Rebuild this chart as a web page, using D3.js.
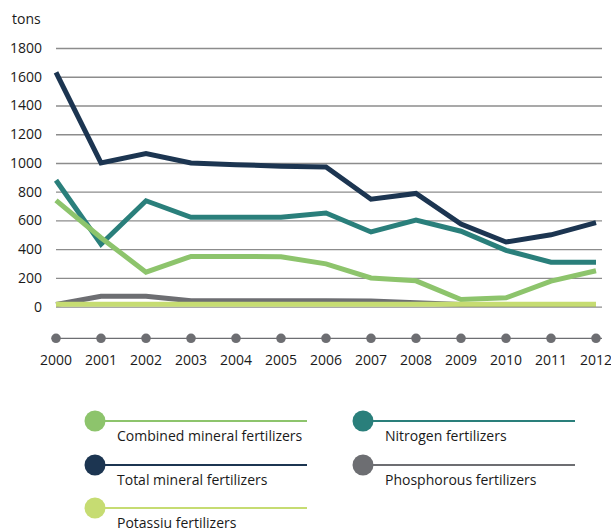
<!DOCTYPE html>
<html>
<head>
<meta charset="utf-8">
<script src="https://cdn.jsdelivr.net/npm/d3@7"></script>
<style>
  html, body { margin: 0; padding: 0; background: #fff; }
  svg { display: block; font-family: "Open Sans", "Noto Sans", sans-serif; }
</style>
</head>
<body>
<svg id="chart" width="611" height="531"></svg>
<script>
// Fertilizer use, tons per year
const years = [2000, 2001, 2002, 2003, 2004, 2005, 2006, 2007, 2008, 2009, 2010, 2011, 2012];
const yTicks = [0, 200, 400, 600, 800, 1000, 1200, 1400, 1600, 1800];

const combined    = [740, 480, 240, 350, 350, 348, 298, 200, 180, 50, 62, 178, 250];
const nitrogen    = [880, 435, 737, 622, 622, 622, 652, 520, 602, 525, 392, 310, 310];
const total       = [1630, 1000, 1065, 1000, 988, 978, 972, 748, 788, 575, 450, 500, 585];
const phosphorous = [15, 72, 72, 42, 42, 42, 42, 40, 28, 15, 15, 15, 15];
const potassium   = [17, 17, 17, 17, 17, 17, 17, 17, 17, 17, 17, 17, 17];

const seriesNames  = ["Combined mineral fertilizers", "Nitrogen fertilizers", "Total mineral fertilizers",
                      "Phosphorous fertilizers", "Potassiu fertilizers"];
const seriesColors = ["#8dc46c", "#2a7f7b", "#1c3551", "#6d6e72", "#c6dc72"];
const seriesValues = [combined, nitrogen, total, phosphorous, potassium];

const svg = d3.select("#chart");
const fontSize = 14;

const x = d3.scaleLinear().domain([2000, 2012]).range([56, 596]);
const y = d3.scaleLinear().domain([0, 1800]).range([306.7, 48]);

// unit label
svg.append("text").attr("x", 12).attr("y", 24)
  .attr("font-size", fontSize).attr("fill", "#1a1a1a").text("tons");

// horizontal gridlines + y labels
const yAxis = d3.axisLeft(y).tickValues(yTicks).tickSize(-(602 - 56)).tickPadding(14)
  .tickFormat(d3.format("d"));
const gy = svg.append("g").attr("transform", "translate(56,0)").call(yAxis);
gy.select(".domain").remove();
gy.selectAll(".tick line").attr("stroke", "#8c8c8c").attr("stroke-width", 1.3);
gy.selectAll(".tick text").attr("font-size", fontSize).attr("fill", "#1a1a1a")
  .attr("font-family", "'Open Sans', sans-serif");

// series lines: drawn so the lighter greens sit on top
const line = d3.line().x((d, i) => x(years[i])).y(d => y(d));
const drawOrder = [3, 1, 2, 0, 4];
drawOrder.forEach(k => {
  svg.append("path")
    .datum(seriesValues[k])
    .attr("d", line)
    .attr("fill", "none")
    .attr("stroke", seriesColors[k])
    .attr("stroke-width", 5)
    .attr("stroke-linejoin", "miter");
});

// year axis with dot markers
const axisY = 338.3;
svg.append("line").attr("x1", 56).attr("x2", 602).attr("y1", axisY).attr("y2", axisY)
  .attr("stroke", "#6d6e72").attr("stroke-width", 1.2);
svg.append("g").selectAll("circle").data(years).join("circle")
  .attr("cx", d => x(d)).attr("cy", axisY).attr("r", 4.8).attr("fill", "#6d6e72");
svg.append("g").selectAll("text").data(years).join("text")
  .attr("x", d => x(d)).attr("y", 365).attr("text-anchor", "middle")
  .attr("font-size", fontSize).attr("fill", "#1a1a1a").text(d => d);

// legend
const legendPos = [
  { cx: 95, cy: 421 }, { cx: 363, cy: 421 },
  { cx: 95, cy: 465 }, { cx: 363, cy: 465 },
  { cx: 95, cy: 508 }
];
const legendLen = 212;
const lg = svg.append("g").selectAll("g").data(seriesNames).join("g")
  .attr("transform", (d, i) => `translate(${legendPos[i].cx},${legendPos[i].cy})`);
lg.append("line").attr("x1", 0).attr("x2", legendLen).attr("y1", 0).attr("y2", 0)
  .attr("stroke", (d, i) => seriesColors[i]).attr("stroke-width", 2.2);
lg.append("circle").attr("r", 10.5).attr("fill", (d, i) => seriesColors[i]);
lg.append("text").attr("x", 22).attr("y", 20).attr("font-size", fontSize)
  .attr("fill", "#1a1a1a").text(d => d);
</script>
</body>
</html>
